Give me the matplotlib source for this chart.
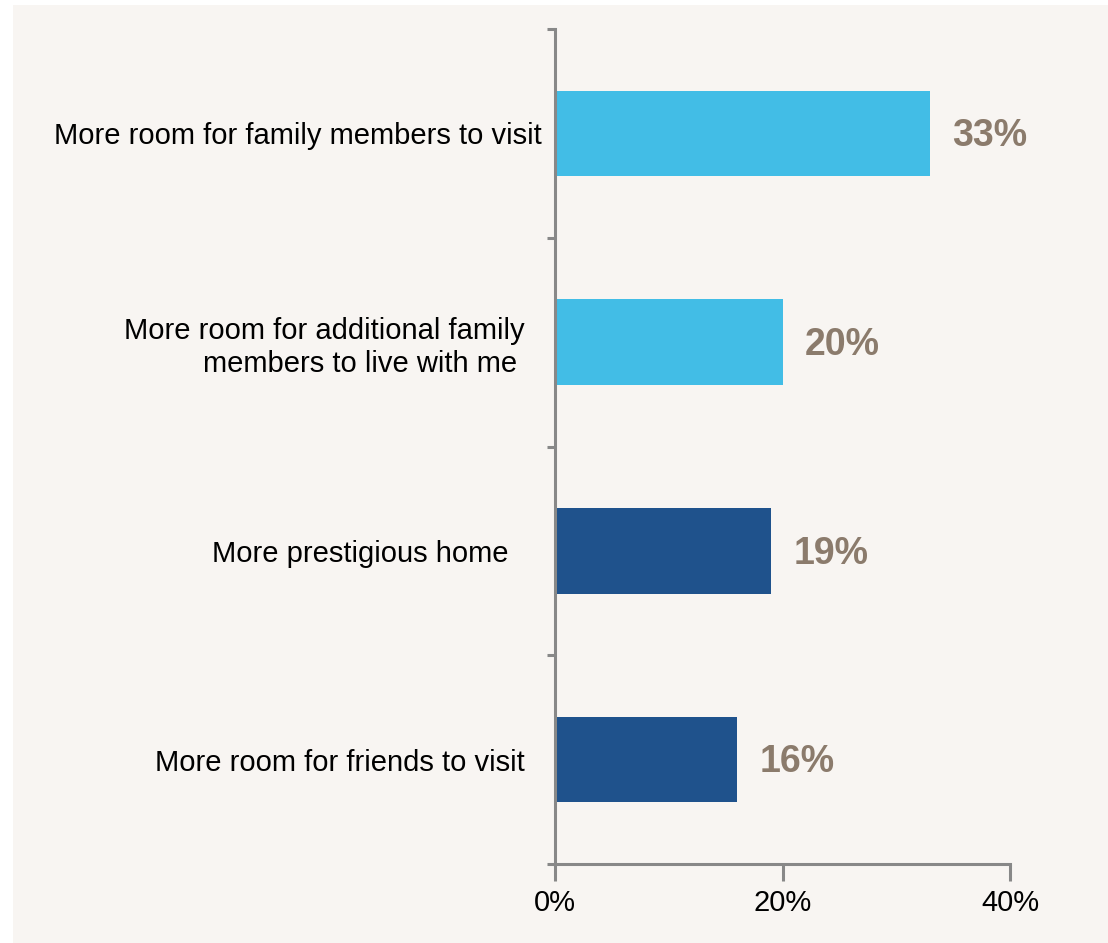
import matplotlib
matplotlib.use("Agg")
import matplotlib.pyplot as plt
from matplotlib.patches import Rectangle

categories = [
    "More room for family members to visit ",
    "More room for additional family   \nmembers to live with me    ",
    "More prestigious home     ",
    "More room for friends to visit   ",
]
values = [33, 20, 19, 16]
bar_colors = ["#42bde6", "#42bde6", "#1f528c", "#1f528c"]
xticks = [0, 20, 40]
xtick_labels = ["0%", "20%", "40%"]

BG = "#f8f5f2"
FONT = ["Liberation Sans Narrow", "Liberation Sans", "DejaVu Sans"]
plt.rcParams["font.family"] = FONT

W, H = 1108, 943
fig = plt.figure(figsize=(W / 100, H / 100), dpi=100, facecolor="white")
fig.patches.append(Rectangle((13 / W, 0), 1 - 13 / W, 1 - 5 / H,
                             transform=fig.transFigure, facecolor=BG,
                             edgecolor="none", zorder=-10))

left, right = 555 / W, 1010 / W
bottom, top = 1 - 864 / H, 1 - 29 / H
ax = fig.add_axes([left, bottom, right - left, top - bottom])
ax.set_zorder(5)
ax.set_facecolor("none")

y = list(range(len(categories)))
ax.barh(y, values, height=0.41, color=bar_colors, zorder=2)

for yi, v in zip(y, values):
    ax.annotate(f"{v}%", (v, yi), xytext=(16, -2), textcoords="offset points",
                ha="left", va="center", fontsize=27, fontweight="bold",
                color="#8b7b6c")

ax.set_xlim(0, 40)
ax.set_ylim(len(categories) - 0.5, -0.5)
ax.set_xticks(xticks)
ax.set_xticklabels(xtick_labels, fontsize=21)

ax.set_yticks([i - 0.5 for i in range(len(categories) + 1)])
ax.set_yticklabels([])
ax.set_yticks(y, minor=True)
ax.set_yticklabels(categories, minor=True, fontsize=21, multialignment="right")

spine_c = "#888888"
for s in ["top", "right"]:
    ax.spines[s].set_visible(False)
for s in ["left", "bottom"]:
    ax.spines[s].set_color(spine_c)
    ax.spines[s].set_linewidth(2.2)

ax.tick_params(axis="x", which="major", length=12, width=2.2, color=spine_c,
               pad=6, labelcolor="black")
ax.tick_params(axis="y", which="major", length=6, width=2.2, color=spine_c)
ax.tick_params(axis="y", which="minor", length=0, pad=4, labelcolor="black")

fig.savefig("out.png", dpi=100, facecolor="white")
